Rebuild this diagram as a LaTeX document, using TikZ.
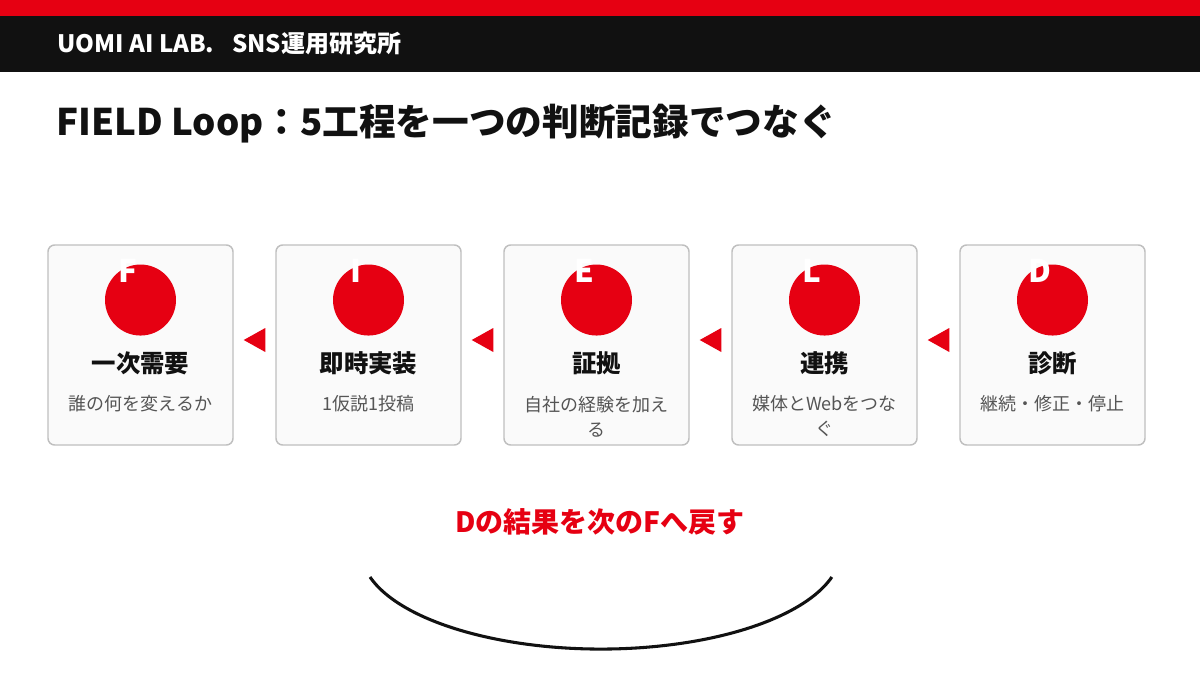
\documentclass[tikz,border=0pt]{standalone}
\usepackage{fontspec}
\setmainfont{Noto Sans CJK JP}
\usetikzlibrary{positioning}
\definecolor{uored}{HTML}{E60012}
\definecolor{uoblack}{HTML}{111111}
\definecolor{uogray}{HTML}{555555}

\begin{document}
\begin{tikzpicture}[x=0.75pt,y=-0.75pt,
  card/.style={rectangle,rounded corners=5pt,draw=black!25,line width=1.1pt,fill=black!2,
    minimum width=138.75pt,minimum height=150pt},
  dot/.style={circle,fill=uored,minimum size=53.25pt,inner sep=0pt},
  letter/.style={text=white,font=\fontsize{23.5}{26}\selectfont\bfseries,inner sep=0pt},
  cardtitle/.style={text=uoblack,font=\fontsize{18.3}{20}\selectfont\bfseries,inner sep=0pt},
  cardnote/.style={text=uogray,font=\fontsize{13.5}{18.75}\selectfont,align=center,inner sep=0pt}]

  \useasboundingbox (0,0) rectangle (1200,675);
  \fill[white] (0,0) rectangle (1200,675);
  % header
  \fill[uored] (0,0) rectangle (1200,16);
  \fill[uoblack] (0,16) rectangle (1200,72);
  \node[anchor=west,text=white,font=\fontsize{18}{20}\selectfont\bfseries,inner sep=0pt] (head) at (57,43)
    {UOMI AI LAB.\hspace{0.75em}SNS運用研究所};
  \node[anchor=west,text=uoblack,font=\fontsize{27.5}{30}\selectfont\bfseries,inner sep=0pt] (title) at (56,124)
    {FIELD Loop：5工程を一つの判断記録でつなぐ};

  % the five steps
  \node[card] (f) at (140.5,345) {};
  \node[card] (i) at (368.5,345) {};
  \node[card] (e) at (596.5,345) {};
  \node[card] (l) at (824.5,345) {};
  \node[card] (d) at (1052.5,345) {};

  \node[dot,below=15pt of f.north] (fdot) {};
  \node[dot,below=15pt of i.north] (idot) {};
  \node[dot,below=15pt of e.north] (edot) {};
  \node[dot,below=15pt of l.north] (ldot) {};
  \node[dot,below=15pt of d.north] (ddot) {};

  \node[letter] at ([xshift=-9.4pt,yshift=-4.9pt]fdot.north) {F};
  \node[letter] at ([xshift=-9.4pt,yshift=-4.9pt]idot.north) {I};
  \node[letter] at ([xshift=-9.4pt,yshift=-4.9pt]edot.north) {E};
  \node[letter] at ([xshift=-9.4pt,yshift=-4.9pt]ldot.north) {L};
  \node[letter] at ([xshift=-9.4pt,yshift=-4.9pt]ddot.north) {D};

  \node[cardtitle] (ft) at (140.5,363) {一次需要};
  \node[cardtitle] (it) at (368.5,363) {即時実装};
  \node[cardtitle] (et) at (596.5,363) {証拠};
  \node[cardtitle] (lt) at (824.5,363) {連携};
  \node[cardtitle] (dt) at (1052.5,363) {診断};

  \node[cardnote] (fn) at (140.5,404) {誰の何を変えるか};
  \node[cardnote] (in) at (368.5,404) {1仮説1投稿};
  \node[cardnote] (en) at (596.5,416.5) {自社の経験を加え\\る};
  \node[cardnote] (ln) at (824.5,416.5) {媒体とWebをつな\\ぐ};
  \node[cardnote] (dn) at (1052.5,404) {継続・修正・停止};

  % arrows point back to the left
  \foreach \a/\b in {f/i,i/e,e/l,l/d}
    \fill[uored] ([xshift=7.5pt,yshift=3.75pt]\a.east) -- ([xshift=-7.5pt,yshift=12.75pt]\b.west)
      -- ([xshift=-7.5pt,yshift=-5.25pt]\b.west) -- cycle;

  % loop back
  \node[text=uored,font=\fontsize{21}{24}\selectfont\bfseries,inner sep=0pt] (back) at (600,522) {Dの結果を次のFへ戻す};
  \coordinate (loopL) at (370,577);
  \coordinate (loopR) at (830,577);
  \draw[uoblack,line width=2.3pt] (loopL) arc[start angle=164.2,end angle=15.8,x radius=240,y radius=99];
\end{tikzpicture}
\end{document}
